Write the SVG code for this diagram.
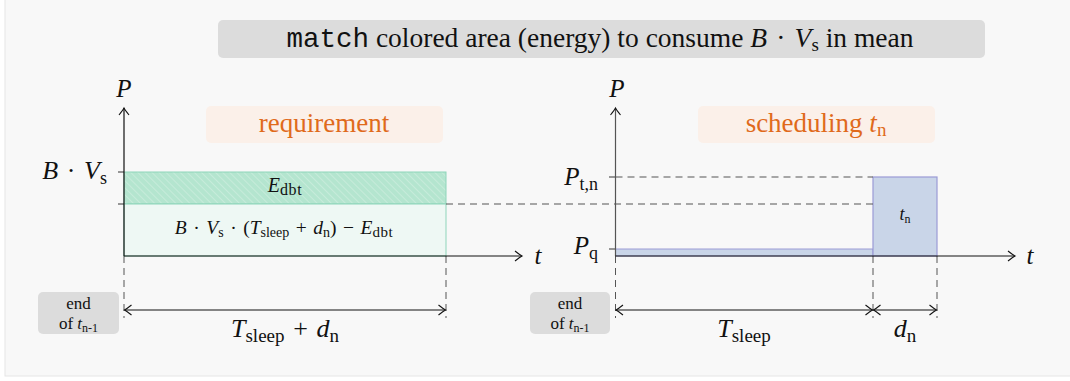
<svg xmlns="http://www.w3.org/2000/svg" width="1070" height="381" viewBox="0 0 1070 381">
<style>
.t{font-family:"Liberation Serif","DejaVu Serif",serif;fill:#111}
.i{font-style:italic}
.m{font-family:"Liberation Mono","DejaVu Sans Mono",monospace}
.or{fill:#e06a1b}
.ax{stroke:#111;stroke-width:1.2;fill:none}
.ax2{stroke:#555;stroke-width:1.2;fill:none}
.dash{stroke:#555;stroke-width:1;stroke-dasharray:7,5;fill:none}
.dim{stroke:#111;stroke-width:1.1;fill:none;marker-start:url(#ah);marker-end:url(#ah)}
.gbox{fill:#dcdcdc}
.obox{fill:#fbf0e9}
.tick{stroke:#555;stroke-width:1.2}
</style>
<defs>
<marker id="ah" viewBox="-10 -6 12 12" refX="0" refY="0" markerWidth="12" markerHeight="12" markerUnits="userSpaceOnUse" orient="auto-start-reverse">
<path d="M-7,-5 Q-2,-1 0,0 Q-2,1 -7,5" fill="none" stroke="#111" stroke-width="1.1"/>
</marker>
<pattern id="hatch" width="5" height="5" patternUnits="userSpaceOnUse" patternTransform="rotate(-45)">
<rect width="5" height="5" fill="#b4e5cf"/>
<line x1="0" y1="0" x2="0" y2="5" stroke="#d6f1e4" stroke-width="1.1"/>
</pattern>
</defs>
<rect x="5" y="-2" width="1070" height="378" fill="#f8f8f8" stroke="#e6e6e6" stroke-width="1"/>

<g id="title">
<rect class="gbox" x="218" y="20" width="767" height="38" rx="5"/>
<text class="t" x="600" y="47" font-size="27.5" text-anchor="middle"><tspan class="m">match</tspan> colored area (energy) to consume <tspan class="i">B</tspan>&#8196;·&#8196;<tspan class="i">V</tspan><tspan font-size="19" dy="4">s</tspan><tspan dy="-4"> in mean</tspan></text>
</g>

<g id="requirement-label">
<rect class="obox" x="206" y="106" width="237" height="37" rx="5"/>
<text class="t or" x="324" y="132" font-size="27" text-anchor="middle">requirement</text>
</g>

<g id="scheduling-label">
<rect class="obox" x="698" y="106" width="237" height="37" rx="5"/>
<text class="t or" x="816" y="132" font-size="27" text-anchor="middle">scheduling <tspan class="i">t</tspan><tspan font-size="19" dy="4">n</tspan></text>
</g>

<g id="edbt-area">
<rect x="124" y="172" width="322" height="32" fill="url(#hatch)" stroke="#8ed5ba" stroke-width="1"/>
<text class="t" x="285" y="192" font-size="20" text-anchor="middle"><tspan class="i">E</tspan><tspan font-size="16" dy="3" letter-spacing="0.6">dbt</tspan></text>
</g>

<g id="rest-area">
<rect x="124" y="204" width="322" height="52" fill="#eef8f4" stroke="#8ed5ba" stroke-width="1"/>
<text class="t" x="284" y="234" font-size="19.5" text-anchor="middle"><tspan class="i">B</tspan>&#8196;·&#8196;<tspan class="i">V</tspan><tspan font-size="14" dy="3">s</tspan><tspan dy="-3">&#8196;·&#8196;(</tspan><tspan class="i">T</tspan><tspan font-size="14" dy="3">sleep</tspan><tspan dy="-3">&#8196;+&#8196;</tspan><tspan class="i">d</tspan><tspan font-size="14" dy="3">n</tspan><tspan dy="-3">)&#8196;−&#8196;</tspan><tspan class="i">E</tspan><tspan font-size="15" dy="3" letter-spacing="0.5">dbt</tspan></text>
</g>

<g id="quiescent-area">
<rect x="615.5" y="249" width="257.5" height="7" fill="#c9d5e8" stroke="#9b9bd6" stroke-width="1"/>
</g>

<g id="tn-area">
<rect x="873" y="177" width="64" height="79" fill="#c9d5e8" stroke="#9b9bd6" stroke-width="1.2"/>
<text class="t" x="905" y="220" font-size="18" text-anchor="middle"><tspan class="i">t</tspan><tspan font-size="12" dy="3">n</tspan></text>
</g>

<g id="end-left">
<rect class="gbox" x="38" y="292" width="81" height="42" rx="5"/>
<text class="t" x="78.5" y="309" font-size="17" text-anchor="middle">end</text>
<text class="t" x="78.5" y="329" font-size="17" text-anchor="middle">of <tspan class="i">t</tspan><tspan font-size="12" dy="3">n-1</tspan></text>
</g>

<g id="end-right">
<rect class="gbox" x="530" y="292" width="80" height="42" rx="5"/>
<text class="t" x="570" y="309" font-size="17" text-anchor="middle">end</text>
<text class="t" x="570" y="329" font-size="17" text-anchor="middle">of <tspan class="i">t</tspan><tspan font-size="12" dy="3">n-1</tspan></text>
</g>

<g id="labels">
<text class="t i" x="124" y="97" font-size="25" text-anchor="middle">P</text>
<text class="t i" x="538" y="264" font-size="25" text-anchor="middle">t</text>
<text class="t" x="107" y="179" font-size="26" text-anchor="end"><tspan class="i">B</tspan>&#8196;·&#8196;<tspan class="i">V</tspan><tspan font-size="18" dy="5">s</tspan></text>
<text class="t" x="285" y="337" font-size="26" text-anchor="middle"><tspan class="i">T</tspan><tspan font-size="19" dy="5">sleep</tspan><tspan dy="-5">&#8196;+&#8196;</tspan><tspan class="i">d</tspan><tspan font-size="19" dy="5">n</tspan></text>
<text class="t i" x="617" y="97" font-size="25" text-anchor="middle">P</text>
<text class="t i" x="1030" y="264" font-size="25" text-anchor="middle">t</text>
<text class="t" x="598" y="185" font-size="25" text-anchor="end"><tspan class="i">P</tspan><tspan font-size="18" dy="5">t,n</tspan></text>
<text class="t" x="598" y="254" font-size="25" text-anchor="end"><tspan class="i">P</tspan><tspan font-size="18" dy="5">q</tspan></text>
<text class="t" x="744" y="337" font-size="26" text-anchor="middle"><tspan class="i">T</tspan><tspan font-size="19" dy="5">sleep</tspan></text>
<text class="t" x="905" y="337" font-size="26" text-anchor="middle"><tspan class="i">d</tspan><tspan font-size="19" dy="5">n</tspan></text>
</g>

<g id="connectors">
<line class="tick" x1="118" y1="172" x2="124" y2="172"/>
<line class="tick" x1="118" y1="204" x2="124" y2="204"/>
<line class="tick" x1="609" y1="177" x2="615.5" y2="177"/>
<line class="tick" x1="609" y1="249" x2="615.5" y2="249"/>
<line class="dash" x1="446" y1="204" x2="873" y2="204"/>
<line class="dash" x1="615.5" y1="177" x2="873" y2="177"/>
<line class="dash" x1="124" y1="256" x2="124" y2="318"/>
<line class="dash" x1="446" y1="256" x2="446" y2="318"/>
<line class="dash" x1="615.5" y1="256" x2="615.5" y2="318"/>
<line class="dash" x1="873" y1="256" x2="873" y2="318"/>
<line class="dash" x1="937" y1="256" x2="937" y2="318"/>
<path class="ax" d="M124,256 V108" marker-end="url(#ah)"/>
<path class="ax" d="M124,256 H522" marker-end="url(#ah)"/>
<path class="ax2" d="M615.5,256 V108" marker-end="url(#ah)"/>
<path class="ax" d="M615.5,256 H1015" marker-end="url(#ah)"/>
<line class="dim" x1="124.5" y1="310" x2="445.5" y2="310"/>
<line class="dim" x1="616" y1="310" x2="872.5" y2="310"/>
<line class="dim" x1="873.5" y1="310" x2="936.5" y2="310"/>
</g>
</svg>
